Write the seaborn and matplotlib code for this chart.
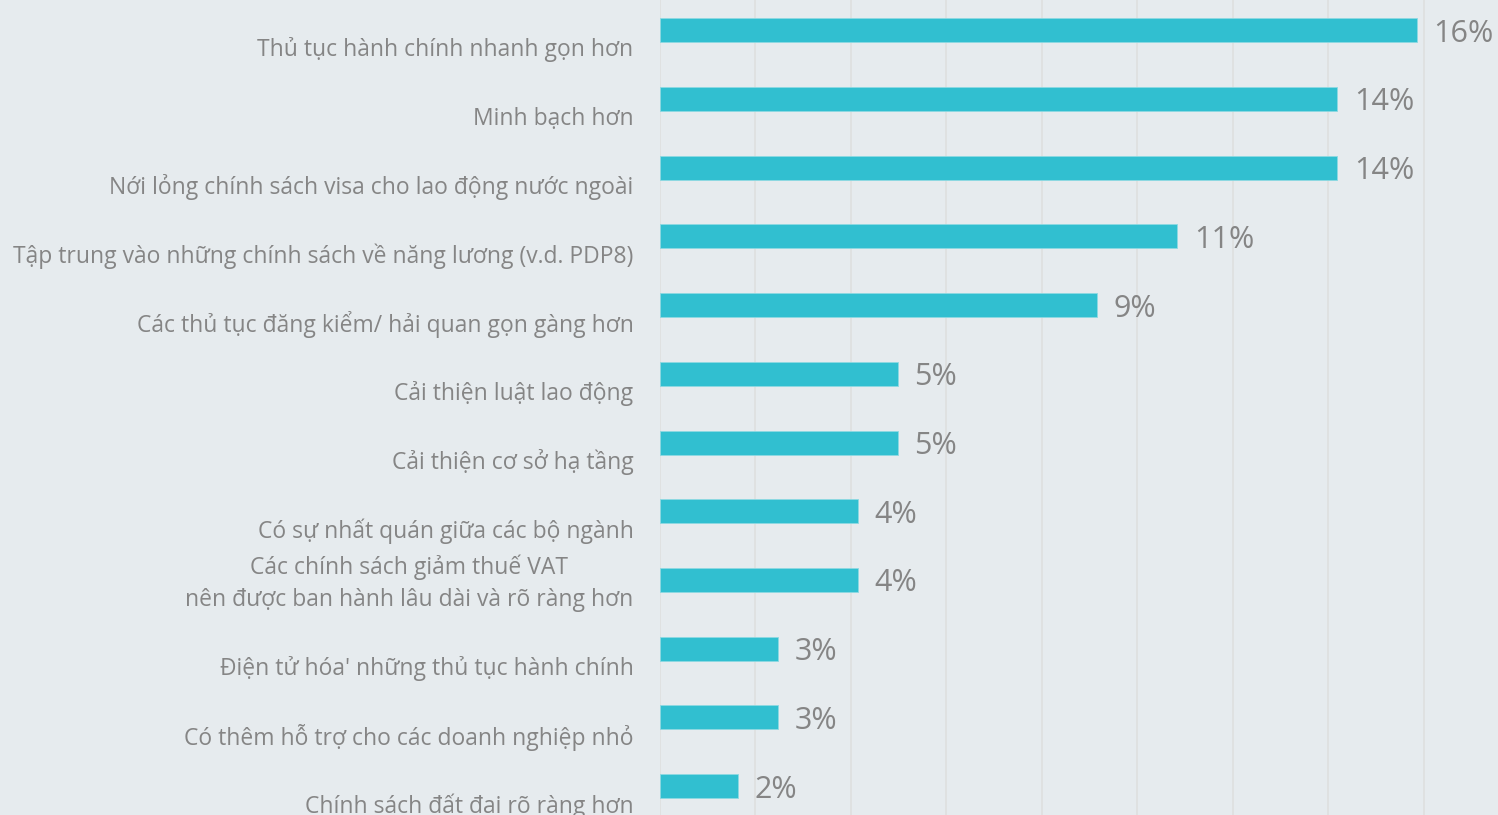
import numpy as np
import pandas as pd
import seaborn as sns
import matplotlib.pyplot as plt
from matplotlib.transforms import ScaledTranslation


categories = [
    "Thủ tục hành chính nhanh gọn hơn",
    "Minh bạch hơn",
    "Nới lỏng chính sách visa cho lao động nước ngoài",
    "Tập trung vào những chính sách về năng lương (v.d. PDP8)",
    "Các thủ tục đăng kiểm/ hải quan gọn gàng hơn",
    "Cải thiện luật lao động",
    "Cải thiện cơ sở hạ tầng",
    "Có sự nhất quán giữa các bộ ngành",
    "Các chính sách giảm thuế VAT\nnên được ban hành lâu dài và rõ ràng hơn",
    "Điện tử hóa' những thủ tục hành chính",
    "Có thêm hỗ trợ cho các doanh nghiệp nhỏ",
    "Chính sách đất đai rõ ràng hơn",
]
values = [15.85, 14.18, 14.18, 10.83, 9.15, 4.98, 4.98, 4.15, 4.15, 2.47, 2.47, 1.63]
value_labels = ["16%", "14%", "14%", "11%", "9%", "5%", "5%", "4%", "4%", "3%", "3%", "2%"]

bg = "#E6EBEE"
bar_color = "#31BFD0"
text_color = "#858585"

sns.set_theme(style="white")
plt.rcParams["font.family"] = ["Open Sans", "DejaVu Sans"]

df = pd.DataFrame({"cat": categories, "val": values})

fig = plt.figure(figsize=(14.98, 8.15), dpi=100, facecolor=bg)
ax = fig.add_axes([660 / 1498, 0, 1 - 660 / 1498, 1])
ax.set_facecolor(bg)

sns.barplot(data=df, x="val", y="cat", color=bar_color, width=0.35,
            saturation=1, ax=ax, edgecolor="#8ED9E2", linewidth=0.6)

ax.set_xlim(0, 17.55)
ax.set_ylim(11.42, -0.44)
ax.set_xticks(np.arange(0, 18, 2))
ax.grid(axis="x", color="#DEDFDF", linewidth=1.2)
ax.set_axisbelow(True)
ax.tick_params(axis="x", bottom=False, labelbottom=False)
ax.tick_params(axis="y", left=False, pad=13, labelsize=16.5, labelcolor=text_color)
for s in ax.spines.values():
    s.set_visible(False)
ax.set_xlabel("")
ax.set_ylabel("")

# single-line labels sit a bit below the bar centre, the two-line one stays centred
for lab in ax.get_yticklabels():
    lab.set_multialignment("center")
    lab.set_linespacing(1.45)
    if "\n" not in lab.get_text():
        lab.set_transform(lab.get_transform() + ScaledTranslation(0, -12 / 72, fig.dpi_scale_trans))
    else:
        lab.set_transform(lab.get_transform() + ScaledTranslation(0, 3 / 72, fig.dpi_scale_trans))

for i, (v, t) in enumerate(zip(values, value_labels)):
    ax.text(v + 0.35, i + 0.05, t, va="center", ha="left", fontsize=22, color=text_color)

fig.savefig("out.png", dpi=100, facecolor=bg)
